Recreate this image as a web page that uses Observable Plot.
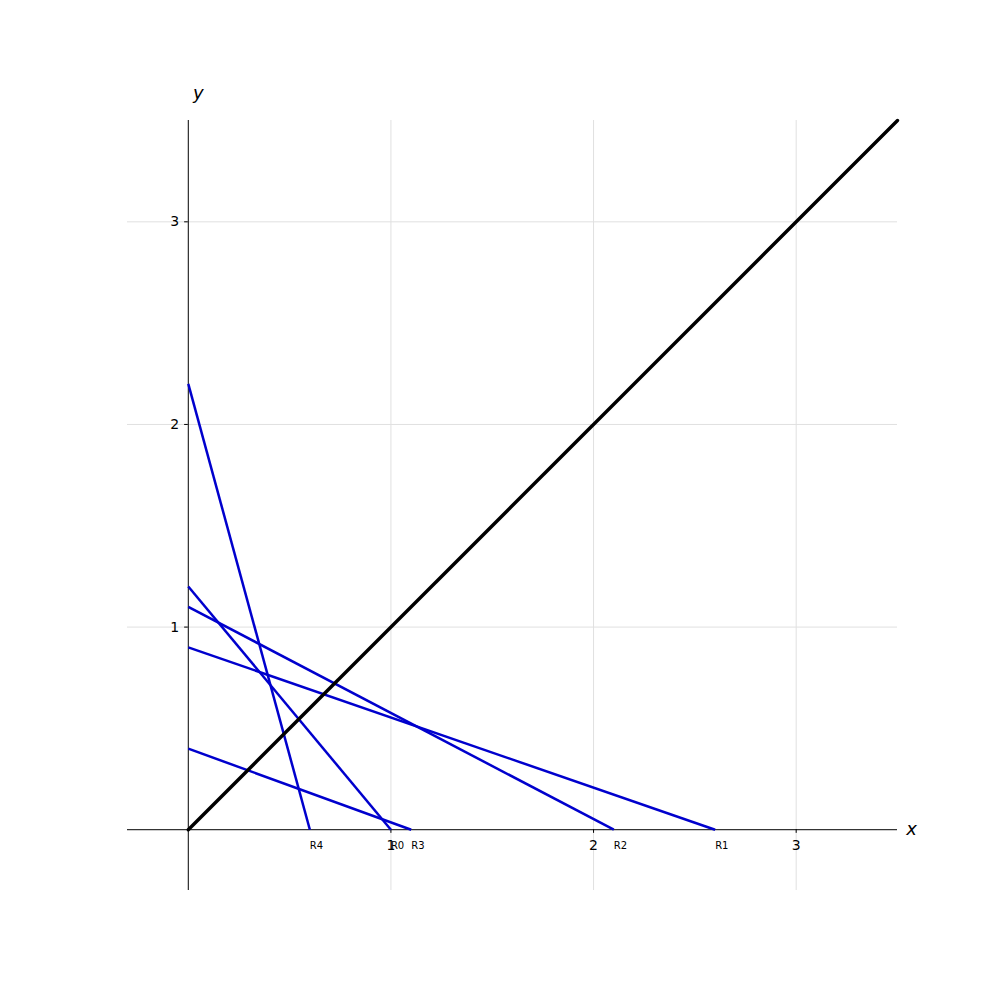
<!DOCTYPE html>
<html>
<head>
<meta charset="utf-8">
<script src="https://cdn.jsdelivr.net/npm/d3@7"></script>
<script src="https://cdn.jsdelivr.net/npm/@observablehq/plot@0.6"></script>
<style>
  html, body { margin: 0; padding: 0; background: #fff; }
</style>
</head>
<body>
<div id="chart"></div>
<script>
const names = ["R0", "R1", "R2", "R3", "R4"];
const yIntercepts = [1.2, 0.9, 1.1, 0.4, 2.2];
const xIntercepts = [1.0, 2.6, 2.1, 1.1, 0.6];
const diagonal = [[0, 0], [3.5, 3.5]];
const xTicks = [1, 2, 3];
const yTicks = [1, 2, 3];
const domain = [-0.3, 3.5];

const lines = names.map((n, i) => ({name: n, y0: yIntercepts[i], x0: xIntercepts[i]}));

const plot = Plot.plot({
  width: 1000,
  height: 1000,
  marginLeft: 127,
  marginRight: 103,
  marginTop: 120,
  marginBottom: 110,
  style: {fontFamily: "DejaVu Sans, sans-serif", background: "white"},
  x: {domain, axis: null},
  y: {domain, axis: null},
  marks: [
    Plot.ruleX(xTicks, {stroke: "#e0e0e0", strokeWidth: 1}),
    Plot.ruleY(yTicks, {stroke: "#e0e0e0", strokeWidth: 1}),
    Plot.ruleX([0], {stroke: "black", strokeWidth: 1}),
    Plot.ruleY([0], {stroke: "black", strokeWidth: 1}),
    Plot.ruleX(xTicks, {x: d => d, y1: 0, y2: -0.018, stroke: "black"}),
    Plot.ruleY(yTicks, {y: d => d, x1: 0, x2: -0.018, stroke: "black"}),
    Plot.text(xTicks, {x: d => d, y: 0, text: d => String(d), dy: 16, fontSize: 14, fill: "black"}),
    Plot.text(yTicks, {x: 0, y: d => d, text: d => String(d), dx: -9, textAnchor: "end", fontSize: 14, fill: "black"}),
    Plot.link(lines, {x1: 0, y1: "y0", x2: "x0", y2: 0, stroke: "#0000cd", strokeWidth: 2.5}),
    Plot.line(diagonal, {x: d => d[0], y: d => d[1], stroke: "black", strokeWidth: 3.4}),
    Plot.text(lines, {x: "x0", y: 0, text: "name", dy: 16, textAnchor: "start", fontSize: 10, fill: "black"}),
    Plot.text(["x"], {x: 3.5, y: 0, text: d => d, dx: 14, fontSize: 18, fontStyle: "italic", fill: "black"}),
    Plot.text(["y"], {x: 0, y: 3.5, text: d => d, dx: 10, dy: -27, fontSize: 18, fontStyle: "italic", fill: "black"})
  ]
});
document.getElementById("chart").appendChild(plot);
</script>
</body>
</html>
